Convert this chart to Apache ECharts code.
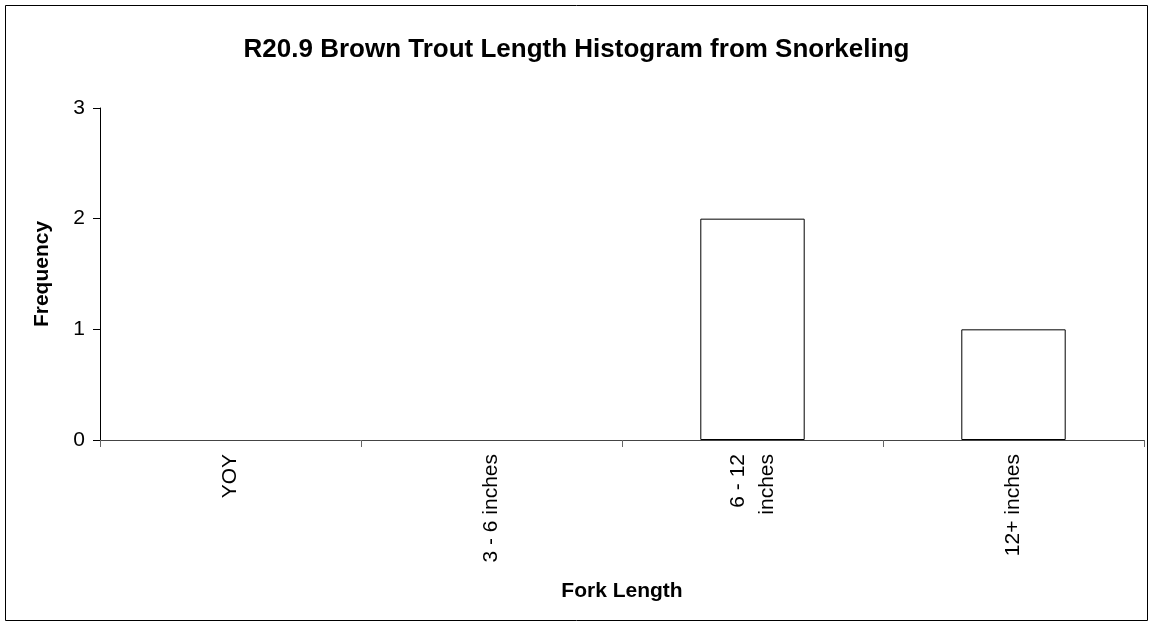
<!DOCTYPE html>
<html>
<head>
<meta charset="utf-8">
<script src="https://cdn.jsdelivr.net/npm/echarts@6/dist/echarts.min.js"></script>
<style>
html,body{margin:0;padding:0;background:#fff;}
#chart{width:1153px;height:625px;}
</style>
</head>
<body>
<div id="chart"></div>
<script>
var titleText = 'R20.9 Brown Trout Length Histogram from Snorkeling';
var categories = ['YOY', '3 - 6 inches', '6 - 12\ninches', '12+ inches'];
var frequency = [0, 0, 2, 1];
var yTicks = [0, 1, 2, 3];

var chart = echarts.init(document.getElementById('chart'), null, {renderer: 'canvas'});
var font = 'Liberation Sans, Arial, sans-serif';
chart.setOption({
  animation: false,
  backgroundColor: '#fff',
  title: {
    text: titleText,
    left: 'center',
    top: 32,
    textStyle: {fontFamily: font, fontWeight: 'bold', fontSize: 26, color: '#000'}
  },
  graphic: [{
    type: 'rect',
    shape: {x: 5.5, y: 5.5, width: 1142, height: 615},
    style: {fill: null, stroke: '#000', lineWidth: 1},
    silent: true,
    z: 100
  }],
  grid: {left: 100, top: 108, right: 9, bottom: 185, containLabel: false},
  xAxis: {
    type: 'category',
    data: categories,
    name: 'Fork Length',
    nameLocation: 'middle',
    nameGap: 141,
    nameTextStyle: {fontFamily: font, fontWeight: 'bold', fontSize: 21, color: '#000'},
    axisLine: {lineStyle: {color: '#444', width: 1}},
    axisTick: {show: true, length: 7, lineStyle: {color: '#666'}},
    axisLabel: {rotate: 90, margin: 14, fontFamily: font, fontSize: 21, color: '#000', interval: 0, lineHeight: 29}
  },
  yAxis: {
    type: 'value',
    min: 0,
    max: 3,
    interval: 1,
    name: 'Frequency',
    nameLocation: 'middle',
    nameGap: 47,
    nameRotate: 90,
    nameTextStyle: {fontFamily: font, fontWeight: 'bold', fontSize: 21, color: '#000'},
    axisLine: {show: true, lineStyle: {color: '#000', width: 1}},
    axisTick: {show: true, length: 7, lineStyle: {color: '#000'}},
    axisLabel: {margin: 15, fontFamily: font, fontSize: 21, color: '#000',
      formatter: function (v) { return yTicks.indexOf(v) >= 0 ? String(v) : ''; }},
    splitLine: {show: false}
  },
  series: [{
    type: 'bar',
    data: frequency.map(function (v) {
      return v === 0 ? {value: v, itemStyle: {borderWidth: 0}} : v;
    }),
    barCategoryGap: '60%',
    itemStyle: {color: '#fff', borderColor: '#000', borderWidth: 1},
    silent: true
  }]
});
</script>
</body>
</html>
